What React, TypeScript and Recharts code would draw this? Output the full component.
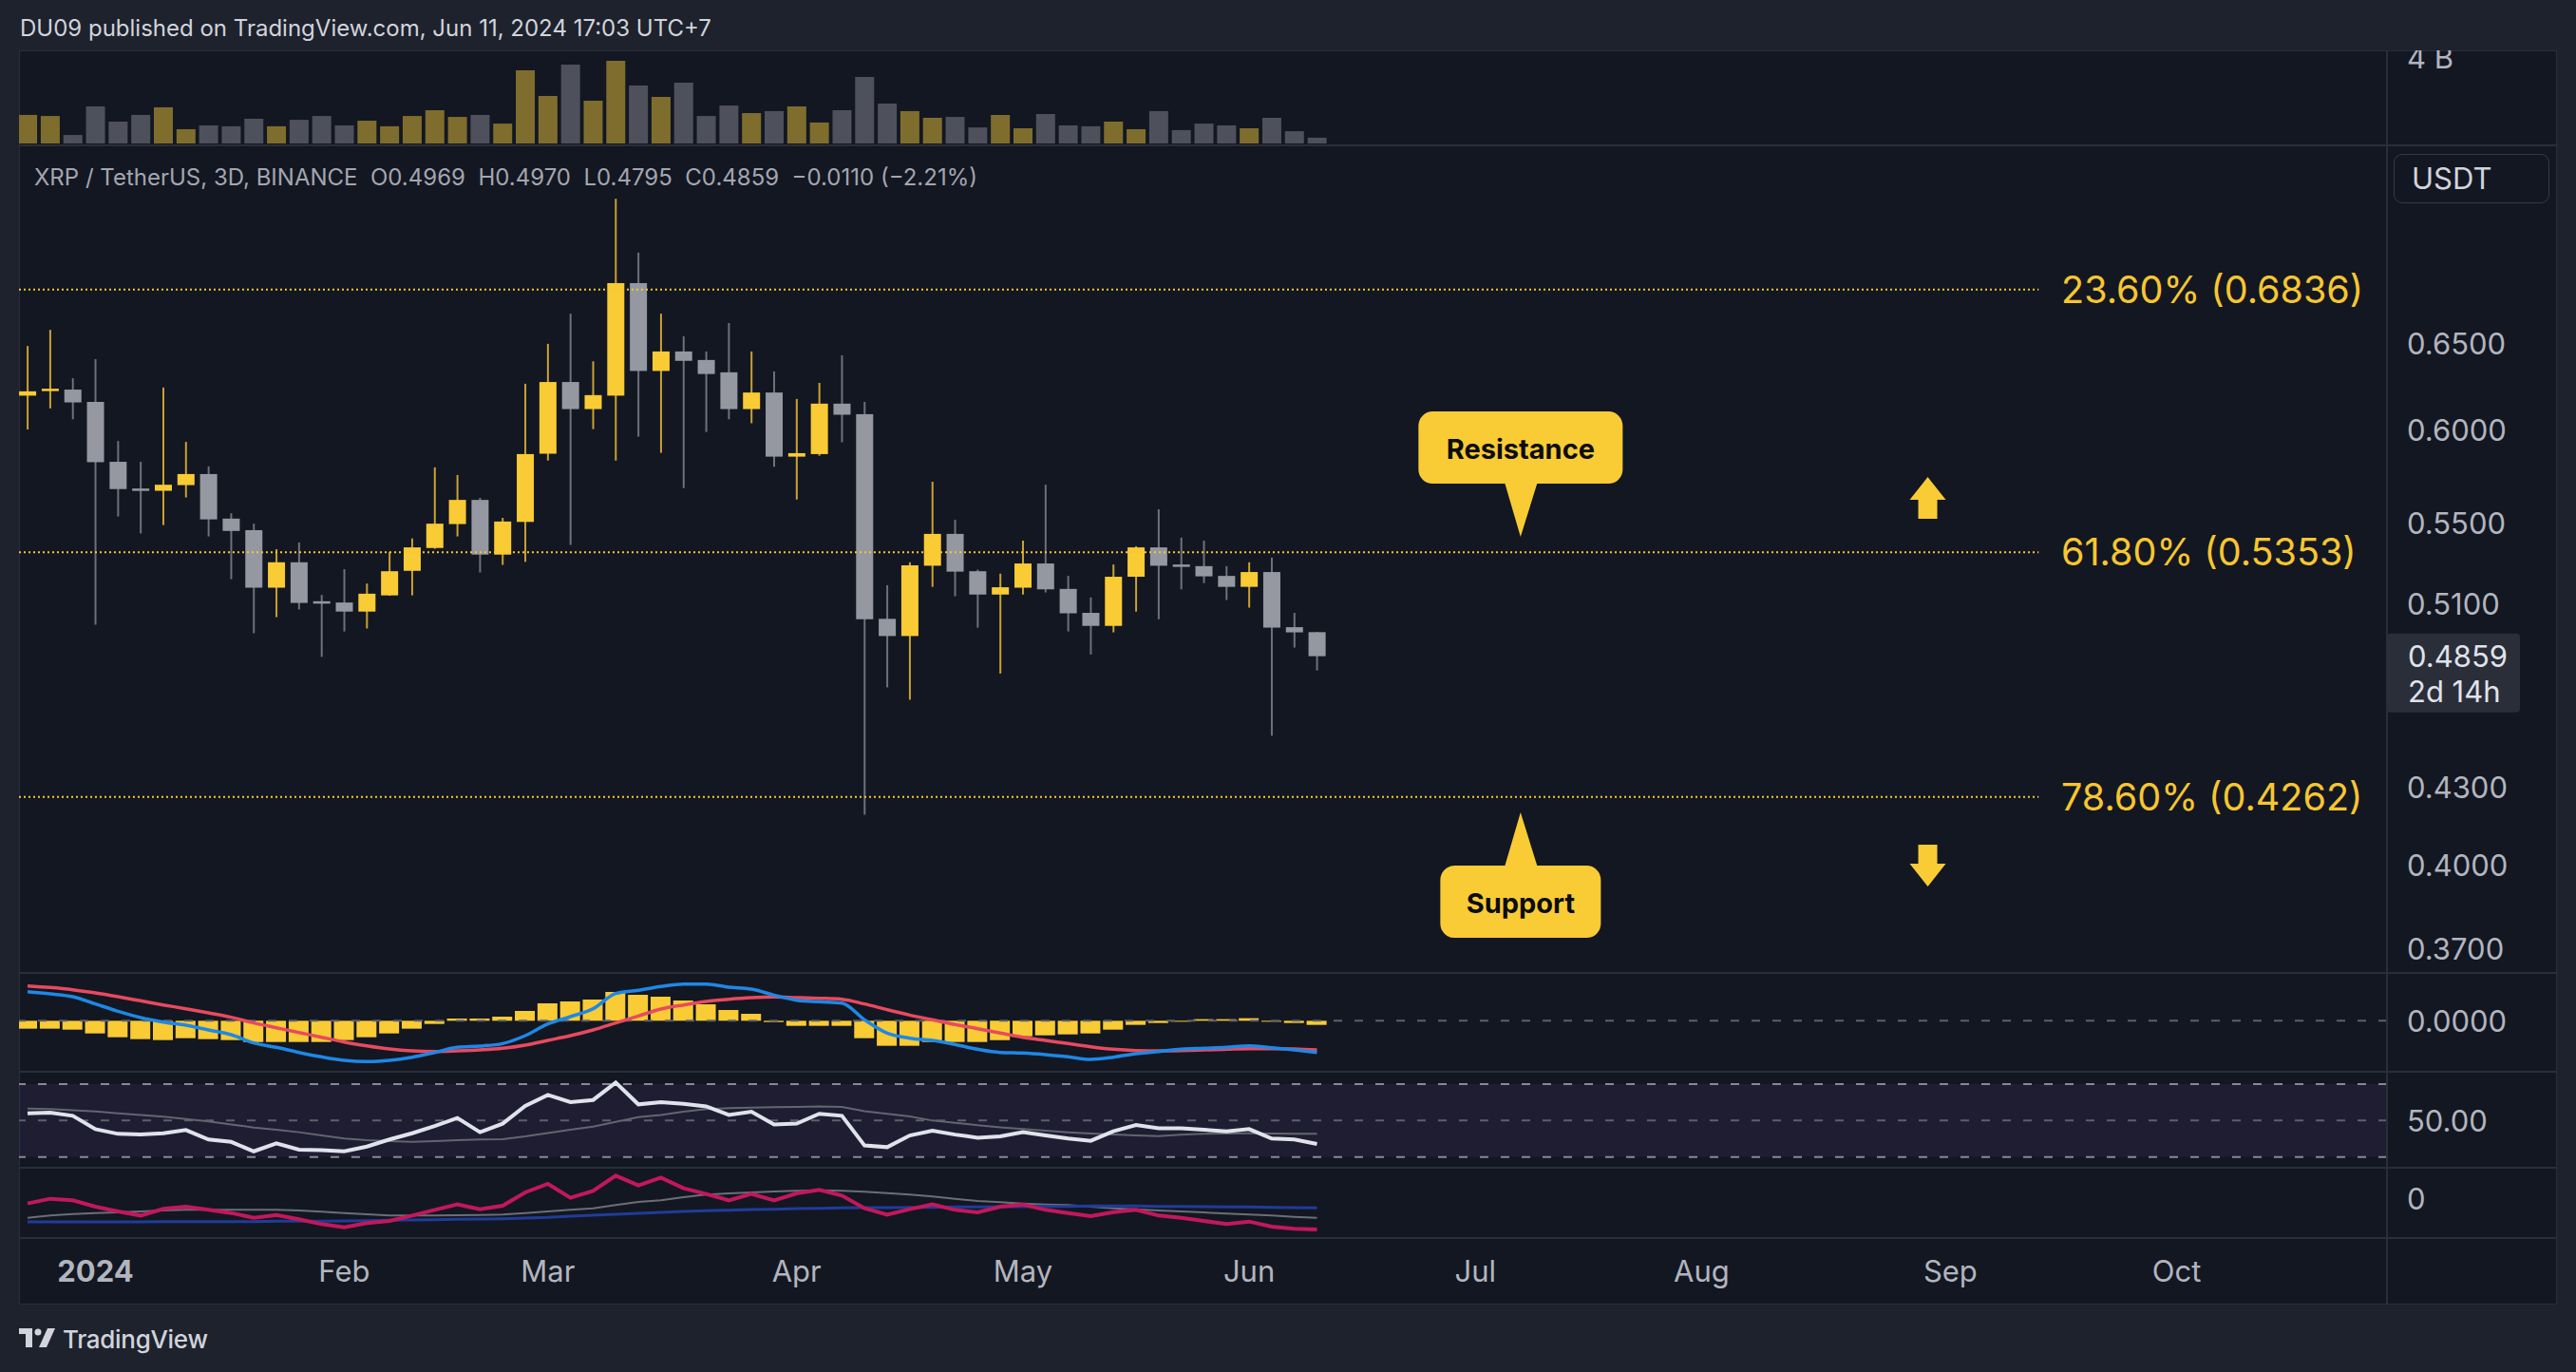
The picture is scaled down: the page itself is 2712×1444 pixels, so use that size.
import React from "react";
import {
  ComposedChart,
  Bar,
  Line,
  XAxis,
  YAxis,
  ReferenceLine,
  ReferenceArea,
  ReferenceDot,
  Cell,
} from "recharts";

// XRP / USDT, 3D candles (Dec 23 2023 -> Jun 10 2024)
const OPEN = [
  0.6193, 0.6225, 0.6228, 0.6157, 0.5823, 0.568, 0.5668, 0.5698, 0.5757, 0.5523,
  0.5464, 0.5179, 0.5303, 0.5114, 0.5108, 0.5065, 0.5142, 0.5261, 0.5374, 0.5495,
  0.562, 0.5341, 0.5506, 0.5867, 0.6272, 0.6116, 0.6193, 0.6877, 0.6337, 0.6453,
  0.6402, 0.6329, 0.6116, 0.6211, 0.5851, 0.5865, 0.6147, 0.6087, 0.5031, 0.4951,
  0.5286, 0.5445, 0.5259, 0.5146, 0.5179, 0.5297, 0.5173, 0.5059, 0.4998, 0.5232,
  0.5377, 0.5292, 0.5284, 0.5236, 0.5183, 0.5255, 0.4992, 0.4969,
];
const HIGH = [
  0.6486, 0.6584, 0.6294, 0.6407, 0.5937, 0.5823, 0.624, 0.5932, 0.5798, 0.5551,
  0.5497, 0.5368, 0.5402, 0.5144, 0.5269, 0.5199, 0.5355, 0.5422, 0.5793, 0.5752,
  0.5631, 0.5527, 0.6262, 0.6499, 0.6684, 0.6394, 0.7439, 0.7075, 0.6684, 0.6545,
  0.6453, 0.6626, 0.6453, 0.6334, 0.6174, 0.6267, 0.643, 0.6157, 0.5191, 0.5303,
  0.5716, 0.5517, 0.5267, 0.5247, 0.5411, 0.57, 0.5236, 0.5132, 0.5292, 0.5383,
  0.5571, 0.5426, 0.5411, 0.5284, 0.5303, 0.5326, 0.5059, 0.497,
];
const LOW = [
  0.6001, 0.612, 0.6058, 0.5004, 0.5534, 0.5447, 0.549, 0.5633, 0.5432, 0.522,
  0.4964, 0.5039, 0.5075, 0.4856, 0.4972, 0.4986, 0.514, 0.5142, 0.537, 0.5432,
  0.5253, 0.529, 0.5305, 0.583, 0.5389, 0.6003, 0.583, 0.5961, 0.5872, 0.5682,
  0.5987, 0.6058, 0.6036, 0.5796, 0.5622, 0.5856, 0.593, 0.4192, 0.472, 0.4666,
  0.5183, 0.5138, 0.499, 0.4781, 0.5146, 0.5156, 0.4972, 0.4867, 0.4968, 0.5065,
  0.5029, 0.5171, 0.5201, 0.512, 0.5084, 0.4512, 0.4898, 0.4795,
];
const CLOSE = [
  0.6218, 0.6233, 0.6154, 0.5821, 0.5677, 0.5668, 0.57, 0.5757, 0.5519, 0.546,
  0.5179, 0.5303, 0.5106, 0.5106, 0.5065, 0.515, 0.5259, 0.5377, 0.5497, 0.562,
  0.5341, 0.5508, 0.5865, 0.6272, 0.6116, 0.6196, 0.6877, 0.6337, 0.6453, 0.6397,
  0.6319, 0.6116, 0.6211, 0.5851, 0.587, 0.6147, 0.6084, 0.5029, 0.4951, 0.5288,
  0.5445, 0.5257, 0.5146, 0.5181, 0.5297, 0.5171, 0.5057, 0.4998, 0.5232, 0.5377,
  0.5286, 0.5286, 0.5234, 0.5183, 0.5255, 0.499, 0.4968, 0.4859,
];
// volume, billions of XRP
const VOLUME = [
  1.28, 1.23, 0.38, 1.66, 0.98, 1.28, 1.62, 0.64, 0.81, 0.77,
  1.11, 0.77, 1.06, 1.23, 0.81, 1.02, 0.77, 1.23, 1.49, 1.19,
  1.28, 0.89, 3.28, 2.13, 3.53, 1.91, 3.7, 2.6, 2.09, 2.72,
  1.23, 1.7, 1.36, 1.45, 1.66, 0.94, 1.49, 2.98, 1.79, 1.45,
  1.15, 1.19, 0.72, 1.28, 0.68, 1.32, 0.81, 0.77, 0.98, 0.64,
  1.45, 0.6, 0.89, 0.81, 0.68, 1.15, 0.55, 0.26,
];
const MACD_HIST = [
  -0.005, -0.005, -0.0056, -0.008, -0.0104, -0.0116, -0.0122, -0.011, -0.0116, -0.0122,
  -0.0134, -0.0134, -0.0134, -0.0134, -0.0122, -0.0104, -0.008, -0.005, -0.002, 0.0014,
  0.0014, 0.0026, 0.0062, 0.011, 0.0122, 0.0134, 0.0182, 0.0164, 0.0152, 0.0128,
  0.0104, 0.0068, 0.0044, -0.0008, -0.0032, -0.0032, -0.0032, -0.011, -0.0158, -0.0158,
  -0.0134, -0.0134, -0.0134, -0.0122, -0.0098, -0.0092, -0.0086, -0.008, -0.0056, -0.0026,
  -0.0014, -0.0006, 0.001, 0.001, 0.0016, -0.0006, -0.0014, -0.0026,
];
const MACD_LINE = [
  0.0184, 0.017, 0.0152, 0.0106, 0.006, 0.002, -0.0008, -0.0028, -0.0058, -0.0088,
  -0.014, -0.0168, -0.02, -0.0228, -0.025, -0.0258, -0.025, -0.023, -0.02, -0.0168,
  -0.016, -0.0144, -0.0094, -0.002, 0.0026, 0.0076, 0.0172, 0.0192, 0.0216, 0.0232,
  0.0232, 0.0212, 0.02, 0.0162, 0.013, 0.012, 0.0112, 0.0006, -0.0078, -0.011,
  -0.0124, -0.015, -0.018, -0.02, -0.0204, -0.0214, -0.0228, -0.0244, -0.023, -0.0208,
  -0.0194, -0.018, -0.0174, -0.0168, -0.0158, -0.017, -0.0184, -0.02,
];
const MACD_SIGNAL = [
  0.022, 0.021, 0.0196, 0.0176, 0.0152, 0.0126, 0.01, 0.0076, 0.005, 0.0022,
  -0.0014, -0.0044, -0.0074, -0.0104, -0.0134, -0.0158, -0.0178, -0.019, -0.0194, -0.019,
  -0.0184, -0.0174, -0.0154, -0.0124, -0.0094, -0.0058, -0.0014, 0.003, 0.0074, 0.01,
  0.0122, 0.0136, 0.0146, 0.015, 0.0146, 0.0142, 0.0136, 0.0106, 0.007, 0.0036,
  0.0006, -0.0024, -0.005, -0.0078, -0.0104, -0.0124, -0.0144, -0.0164, -0.018, -0.0188,
  -0.019, -0.0188, -0.0184, -0.018, -0.0176, -0.0176, -0.0178, -0.0184,
];
const RSI = [
  54.0, 54.3, 52.6, 45.3, 42.7, 42.3, 43.0, 44.8, 39.6, 38.3,
  33.1, 37.5, 34.0, 33.7, 33.1, 35.7, 39.6, 43.0, 47.0, 51.4,
  43.6, 48.3, 58.0, 64.1, 60.1, 61.3, 70.9, 58.9, 60.1, 59.2,
  57.8, 53.1, 54.9, 47.9, 48.3, 53.7, 52.6, 36.3, 35.4, 41.8,
  44.4, 42.3, 40.6, 41.3, 43.6, 41.8, 40.1, 38.9, 44.1, 47.6,
  45.8, 45.7, 45.0, 44.1, 45.3, 40.1, 39.6, 37.1,
];
const RSI_MA = [
  56.6, 56.3, 55.7, 55.0, 54.0, 53.1, 52.1, 50.9, 49.5, 47.9,
  46.2, 45.0, 43.6, 41.8, 40.1, 39.2, 38.7, 38.3, 38.7, 39.2,
  39.6, 39.7, 41.3, 43.2, 45.0, 46.7, 49.3, 51.9, 53.1, 54.9,
  56.3, 56.8, 57.1, 57.3, 57.5, 57.8, 57.5, 55.2, 53.7, 52.3,
  50.0, 48.8, 47.4, 46.3, 45.3, 44.4, 43.6, 42.9, 42.3, 41.8,
  41.5, 42.2, 42.7, 42.9, 43.0, 42.9, 42.7, 42.7,
];
// third oscillator pane
const OSC_MAIN = [
  -1.7, -0.2, -0.7, -2.7, -4.2, -5.5, -3.4, -2.7, -3.7, -4.7,
  -6.2, -5.3, -6.7, -8.2, -9.2, -7.9, -7.2, -5.5, -3.7, -2.0,
  -3.5, -2.4, 1.8, 4.5, 0.1, 2.3, 7.1, 4.0, 6.5, 3.1,
  1.3, -0.7, 1.3, -0.7, 1.5, 2.6, 0.8, -3.2, -5.2, -3.5,
  -2.0, -3.7, -4.5, -2.7, -2.0, -3.7, -4.7, -5.7, -4.4, -3.7,
  -5.5, -6.2, -7.2, -8.2, -7.4, -9.0, -9.7, -9.9,
];
const OSC_AVG = [
  -6.2, -5.5, -5.0, -4.7, -4.5, -4.2, -3.9, -3.7, -3.7, -3.7,
  -3.7, -3.7, -3.9, -4.3, -4.7, -5.1, -5.5, -5.5, -5.5, -5.4,
  -5.3, -5.2, -4.7, -4.2, -3.7, -3.2, -2.2, -1.2, -0.7, 0.3,
  1.1, 1.5, 1.8, 2.1, 2.3, 2.5, 2.3, 2.0, 1.6, 1.1,
  0.5, -0.2, -0.9, -1.3, -1.7, -2.0, -2.2, -2.7, -3.2, -3.5,
  -3.9, -4.2, -4.5, -4.9, -5.2, -5.5, -5.9, -6.2,
];
const OSC_BASE = [
  -7.5, -7.5, -7.5, -7.5, -7.5, -7.5, -7.4, -7.4, -7.4, -7.4,
  -7.4, -7.3, -7.3, -7.3, -7.2, -7.1, -7.0, -6.9, -6.8, -6.7,
  -6.6, -6.5, -6.3, -6.1, -5.7, -5.4, -5.1, -4.8, -4.5, -4.2,
  -4.0, -3.8, -3.6, -3.5, -3.3, -3.2, -3.1, -3.0, -3.0, -2.9,
  -2.9, -2.8, -2.8, -2.7, -2.7, -2.6, -2.6, -2.5, -2.5, -2.5,
  -2.6, -2.6, -2.7, -2.8, -2.8, -2.9, -3.0, -3.1,
];

// x positions are candle indexes; month ticks sit on the first candle of each month
const MONTH_TICKS = [3, 14, 23, 34, 44, 54, 64, 74, 85, 95];
const MONTH_LABELS = ["2024", "Feb", "Mar", "Apr", "May", "Jun", "Jul", "Aug", "Sep", "Oct"];
const PRICE_TICKS = [0.37, 0.4, 0.43, 0.4859, 0.51, 0.55, 0.6, 0.65];
const LAST_PRICE = 0.4859;
const FIB_LEVELS = [0.6836, 0.5353, 0.4262];
const FIB_LABELS = ["23.60% (0.6836)", "61.80% (0.5353)", "78.60% (0.4262)"];

const data = OPEN.map((open, i) => ({
  i,
  open,
  high: HIGH[i],
  low: LOW[i],
  close: CLOSE[i],
  range: [LOW[i], HIGH[i]],
  vol: VOLUME[i],
  hist: MACD_HIST[i],
  macd: MACD_LINE[i],
  signal: MACD_SIGNAL[i],
  rsi: RSI[i],
  rsiMa: RSI_MA[i],
  osc: OSC_MAIN[i],
  oscAvg: OSC_AVG[i],
  oscBase: OSC_BASE[i],
}));

const FONT = 'Inter, "Noto Sans", sans-serif';
const BG = "#131722";
const OUTER = "#1e222d";
const GRID = "#2a2e39";
const TEXT = "#b2b5be";
const UP = "#f9cb35";
const UP_WICK = "#c9a231";
const DOWN = "#9598a1";
const DOWN_WICK = "#6e717b";
const FIB = "#f7c631";

const X_DOMAIN = [-0.378, 104.3];
const FIB_END = 88.9;
const FIB_TEXT_X = 89.9;
const CHART_W = 2672;
const AXIS_W = 179;
const M = { top: 0, right: 0, bottom: 0, left: 0 };

function Candle(props: any) {
  const { x, y, width, height } = props;
  const d = props.payload ?? data[props.index];
  if (!d || height == null) return null;
  const top = Math.min(y, y + height);
  const h = Math.abs(height);
  const span = Math.log(d.high) - Math.log(d.low);
  const py = (v: number) => top + (h * (Math.log(d.high) - Math.log(v))) / span;
  const up = d.close >= d.open;
  const cx = x + width / 2;
  const bTop = py(Math.max(d.open, d.close));
  const bBot = py(Math.min(d.open, d.close));
  return (
    <g>
      <line x1={cx} x2={cx} y1={top} y2={top + h} stroke={up ? UP_WICK : DOWN_WICK} strokeWidth={2} />
      <rect x={x} y={bTop} width={width} height={Math.max(bBot - bTop, 2.5)} fill={up ? UP : DOWN} />
    </g>
  );
}

function PriceTick(props: any) {
  const { x, y, payload } = props;
  const v = payload.value;
  if (v === LAST_PRICE) {
    return (
      <g>
        <rect x={x} y={y - 24} width={140} height={83} rx={4} fill="#2a2e39" />
        <text x={x + 22} y={y} dominantBaseline="central" fill="#e0e3eb" fontSize={31} fontFamily={FONT}>
          {v.toFixed(4)}
        </text>
        <text x={x + 22} y={y + 37} dominantBaseline="central" fill="#e0e3eb" fontSize={31} fontFamily={FONT}>
          2d 14h
        </text>
      </g>
    );
  }
  return (
    <text x={x + 21} y={y} dominantBaseline="central" fill={TEXT} fontSize={31} fontFamily={FONT}>
      {v.toFixed(4)}
    </text>
  );
}

function plainTick(fmt: (v: number) => string, dy = 0) {
  return (props: any) => (
    <text x={props.x + 21} y={props.y + dy} dominantBaseline="central" fill={TEXT} fontSize={31} fontFamily={FONT}>
      {fmt(props.payload.value)}
    </text>
  );
}

function MonthTick(props: any) {
  const { x, y, payload } = props;
  const label = MONTH_LABELS[MONTH_TICKS.indexOf(payload.value)];
  return (
    <text
      x={x}
      y={y + 34}
      textAnchor="middle"
      dominantBaseline="central"
      fill={TEXT}
      fontSize={31}
      fontWeight={label === "2024" ? 700 : 400}
      fontFamily={FONT}
    >
      {label}
    </text>
  );
}

function Callout(props: any) {
  const { cx, cy, text, below, w } = props;
  const boxH = 76;
  const boxY = below ? cy + 56 : cy - 56 - boxH;
  const baseY = below ? cy + 58 : cy - 58;
  return (
    <g>
      <polygon points={`${cx - 17},${baseY} ${cx + 18},${baseY} ${cx},${cy}`} fill={UP} />
      <rect x={cx - w / 2} y={boxY} width={w} height={boxH} rx={15} fill={UP} />
      <text
        x={cx}
        y={boxY + boxH / 2 + 1}
        textAnchor="middle"
        dominantBaseline="central"
        fill="#0c0d10"
        fontSize={29}
        fontWeight={700}
        fontFamily={FONT}
      >
        {text}
      </text>
    </g>
  );
}

function Arrow(props: any) {
  const { cx, cy, up } = props;
  const s = up ? 1 : -1;
  const pts = [
    [cx, cy],
    [cx + 19, cy + s * 24],
    [cx + 10, cy + s * 24],
    [cx + 10, cy + s * 44],
    [cx - 10, cy + s * 44],
    [cx - 10, cy + s * 24],
    [cx - 19, cy + s * 24],
  ]
    .map((p) => p.join(","))
    .join(" ");
  return <polygon points={pts} fill={UP} />;
}

function FibText(props: any) {
  return (
    <text x={props.cx} y={props.cy} dominantBaseline="central" fill={FIB} fontSize={39.5} fontFamily={FONT}>
      {props.text}
    </text>
  );
}

const hiddenX = <XAxis type="number" dataKey="i" domain={X_DOMAIN} allowDataOverflow hide />;

function pane(top: number, height: number) {
  return { position: "absolute" as const, left: 20, top, width: CHART_W, height };
}

export default function App() {
  const hLine = (y: number) => (
    <div key={y} style={{ position: "absolute", left: 20, top: y - 1, width: CHART_W, height: 2, background: GRID }} />
  );
  return (
    <div
      style={{
        position: "absolute",
        left: 0,
        top: 0,
        width: 2712,
        height: 1444,
        background: OUTER,
        fontFamily: FONT,
        overflow: "hidden",
      }}
    >
      <div style={{ position: "absolute", left: 21, top: 14, fontSize: 24, color: "#d1d4dc", lineHeight: "32px" }}>
        DU09 published on TradingView.com, Jun 11, 2024 17:03 UTC+7
      </div>

      <div style={{ position: "absolute", left: 20, top: 53, width: CHART_W, height: 1320, background: BG, border: `1px solid ${GRID}`, boxSizing: "border-box" }} />

      {/* volume */}
      <div style={pane(53, 100)}>
        <ComposedChart width={CHART_W} height={100} data={data} margin={M}>
          {hiddenX}
          <YAxis
            orientation="right"
            width={AXIS_W}
            domain={[-0.085, 4.17]}
            allowDataOverflow
            ticks={[4]}
            interval={0}
            tickLine={false}
            axisLine={false}
            tickSize={0}
            tickMargin={0}
            tick={plainTick((v) => `${v} B`, 3)}
          />
          <Bar dataKey="vol" barSize={20} isAnimationActive={false}>
            {data.map((d) => (
              <Cell key={d.i} fill={d.close >= d.open ? "#7f6d2d" : "#4e505b"} />
            ))}
          </Bar>
        </ComposedChart>
      </div>

      {/* price */}
      <div style={pane(153, 871)}>
        <ComposedChart width={CHART_W} height={871} data={data} margin={M}>
          {hiddenX}
          <YAxis
            orientation="right"
            width={AXIS_W}
            scale="log"
            domain={[0.3618, 0.7818]}
            allowDataOverflow
            ticks={PRICE_TICKS}
            interval={0}
            tickLine={false}
            axisLine={false}
            tickSize={0}
            tickMargin={0}
            tick={(p: any) => <PriceTick {...p} />}
          />
          <Bar dataKey="range" barSize={18} isAnimationActive={false} shape={(p: any) => <Candle {...p} />} />
          {FIB_LEVELS.map((lv) => (
            <ReferenceLine
              key={lv}
              segment={[
                { x: X_DOMAIN[0], y: lv },
                { x: FIB_END, y: lv },
              ]}
              stroke={FIB}
              strokeWidth={2}
              strokeDasharray="2 3"
            />
          ))}
          {FIB_LEVELS.map((lv, k) => (
            <ReferenceDot key={`t${lv}`} x={FIB_TEXT_X} y={lv} r={0} shape={(p: any) => <FibText {...p} text={FIB_LABELS[k]} />} />
          ))}
          <ReferenceDot x={66} y={0.543} r={0} shape={(p: any) => <Callout {...p} text="Resistance" w={215} />} />
          <ReferenceDot x={66} y={0.4201} r={0} shape={(p: any) => <Callout {...p} text="Support" w={169} below />} />
          <ReferenceDot x={84} y={0.5741} r={0} shape={(p: any) => <Arrow {...p} up />} />
          <ReferenceDot x={84} y={0.3921} r={0} shape={(p: any) => <Arrow {...p} />} />
        </ComposedChart>
      </div>

      {/* MACD */}
      <div style={pane(1024, 104)}>
        <ComposedChart width={CHART_W} height={104} data={data} margin={M}>
          {hiddenX}
          <YAxis
            orientation="right"
            width={AXIS_W}
            domain={[-0.0322, 0.0302]}
            allowDataOverflow
            ticks={[0]}
            interval={0}
            tickLine={false}
            axisLine={false}
            tickSize={0}
            tickMargin={0}
            tick={plainTick((v) => v.toFixed(4))}
          />
          <Bar dataKey="hist" barSize={21} fill={UP} isAnimationActive={false} />
          <ReferenceLine y={0} stroke="#5d606b" strokeWidth={2} strokeDasharray="9 13" />
          <Line dataKey="signal" type="monotone" stroke="#e84a5f" strokeWidth={3.5} dot={false} isAnimationActive={false} />
          <Line dataKey="macd" type="monotone" stroke="#1e88e5" strokeWidth={3.5} dot={false} isAnimationActive={false} />
        </ComposedChart>
      </div>

      {/* RSI */}
      <div style={pane(1128, 101)}>
        <ComposedChart width={CHART_W} height={101} data={data} margin={M}>
          {hiddenX}
          <YAxis
            orientation="right"
            width={AXIS_W}
            domain={[24.1, 76.8]}
            allowDataOverflow
            ticks={[50]}
            interval={0}
            tickLine={false}
            axisLine={false}
            tickSize={0}
            tickMargin={0}
            tick={plainTick((v) => v.toFixed(2))}
          />
          <ReferenceArea x1={X_DOMAIN[0]} x2={X_DOMAIN[1]} y1={30} y2={70} fill="#7e57c2" fillOpacity={0.1} stroke="none" />
          <ReferenceLine y={70} stroke="#868993" strokeWidth={2} strokeDasharray="9 13" />
          <ReferenceLine y={50} stroke="#5d606b" strokeWidth={2} strokeDasharray="9 13" />
          <ReferenceLine y={30} stroke="#868993" strokeWidth={2} strokeDasharray="9 13" />
          <Line dataKey="rsiMa" type="linear" stroke="#62656f" strokeWidth={2} dot={false} isAnimationActive={false} />
          <Line dataKey="rsi" type="linear" stroke="#e0e3eb" strokeWidth={4} dot={false} isAnimationActive={false} />
        </ComposedChart>
      </div>

      {/* oscillator + time axis */}
      <div style={pane(1229, 144)}>
        <ComposedChart width={CHART_W} height={144} data={data} margin={M}>
          <XAxis
            type="number"
            dataKey="i"
            domain={X_DOMAIN}
            allowDataOverflow
            ticks={MONTH_TICKS}
            interval={0}
            height={70}
            tickLine={false}
            axisLine={false}
            tickSize={0}
            tickMargin={0}
            tick={(p: any) => <MonthTick {...p} />}
          />
          <YAxis
            orientation="right"
            width={AXIS_W}
            domain={[-12.6, 9.6]}
            allowDataOverflow
            ticks={[0]}
            interval={0}
            tickLine={false}
            axisLine={false}
            tickSize={0}
            tickMargin={0}
            tick={plainTick((v) => `${v}`)}
          />
          <Line dataKey="oscAvg" type="linear" stroke="#6b6e78" strokeWidth={2} dot={false} isAnimationActive={false} />
          <Line dataKey="oscBase" type="linear" stroke="#1f3c99" strokeWidth={3} dot={false} isAnimationActive={false} />
          <Line dataKey="osc" type="linear" stroke="#c2185b" strokeWidth={4} dot={false} isAnimationActive={false} />
        </ComposedChart>
      </div>

      {[153, 1024, 1128, 1229, 1303].map(hLine)}
      <div style={{ position: "absolute", left: 2512, top: 53, width: 2, height: 1320, background: GRID }} />

      <div style={{ position: "absolute", left: 36, top: 171, fontSize: 24, color: "#a3a6af", lineHeight: "32px", whiteSpace: "pre" }}>
        {"XRP / TetherUS, 3D, BINANCE  O0.4969  H0.4970  L0.4795  C0.4859  \u22120.0110 (\u22122.21%)"}
      </div>

      <div
        style={{
          position: "absolute",
          left: 2520,
          top: 162,
          width: 164,
          height: 52,
          boxSizing: "border-box",
          border: "1.5px solid #363a45",
          borderRadius: 9,
          color: "#d1d4dc",
          fontSize: 31,
          lineHeight: "49px",
          paddingLeft: 18,
        }}
      >
        USDT
      </div>

      <svg style={{ position: "absolute", left: 20, top: 1398 }} width={40} height={21}>
        <rect x={0} y={0} width={14} height={6} fill="#d1d4dc" />
        <rect x={7} y={0} width={7} height={20} fill="#d1d4dc" />
        <circle cx={20} cy={4} r={3.5} fill="#d1d4dc" />
        <polygon points="30,0 38,0 29,20 21,20" fill="#d1d4dc" />
      </svg>
      <div style={{ position: "absolute", left: 66, top: 1393, fontSize: 26, fontWeight: 500, color: "#d1d4dc", lineHeight: "34px", letterSpacing: -0.3 }}>
        TradingView
      </div>
    </div>
  );
}
